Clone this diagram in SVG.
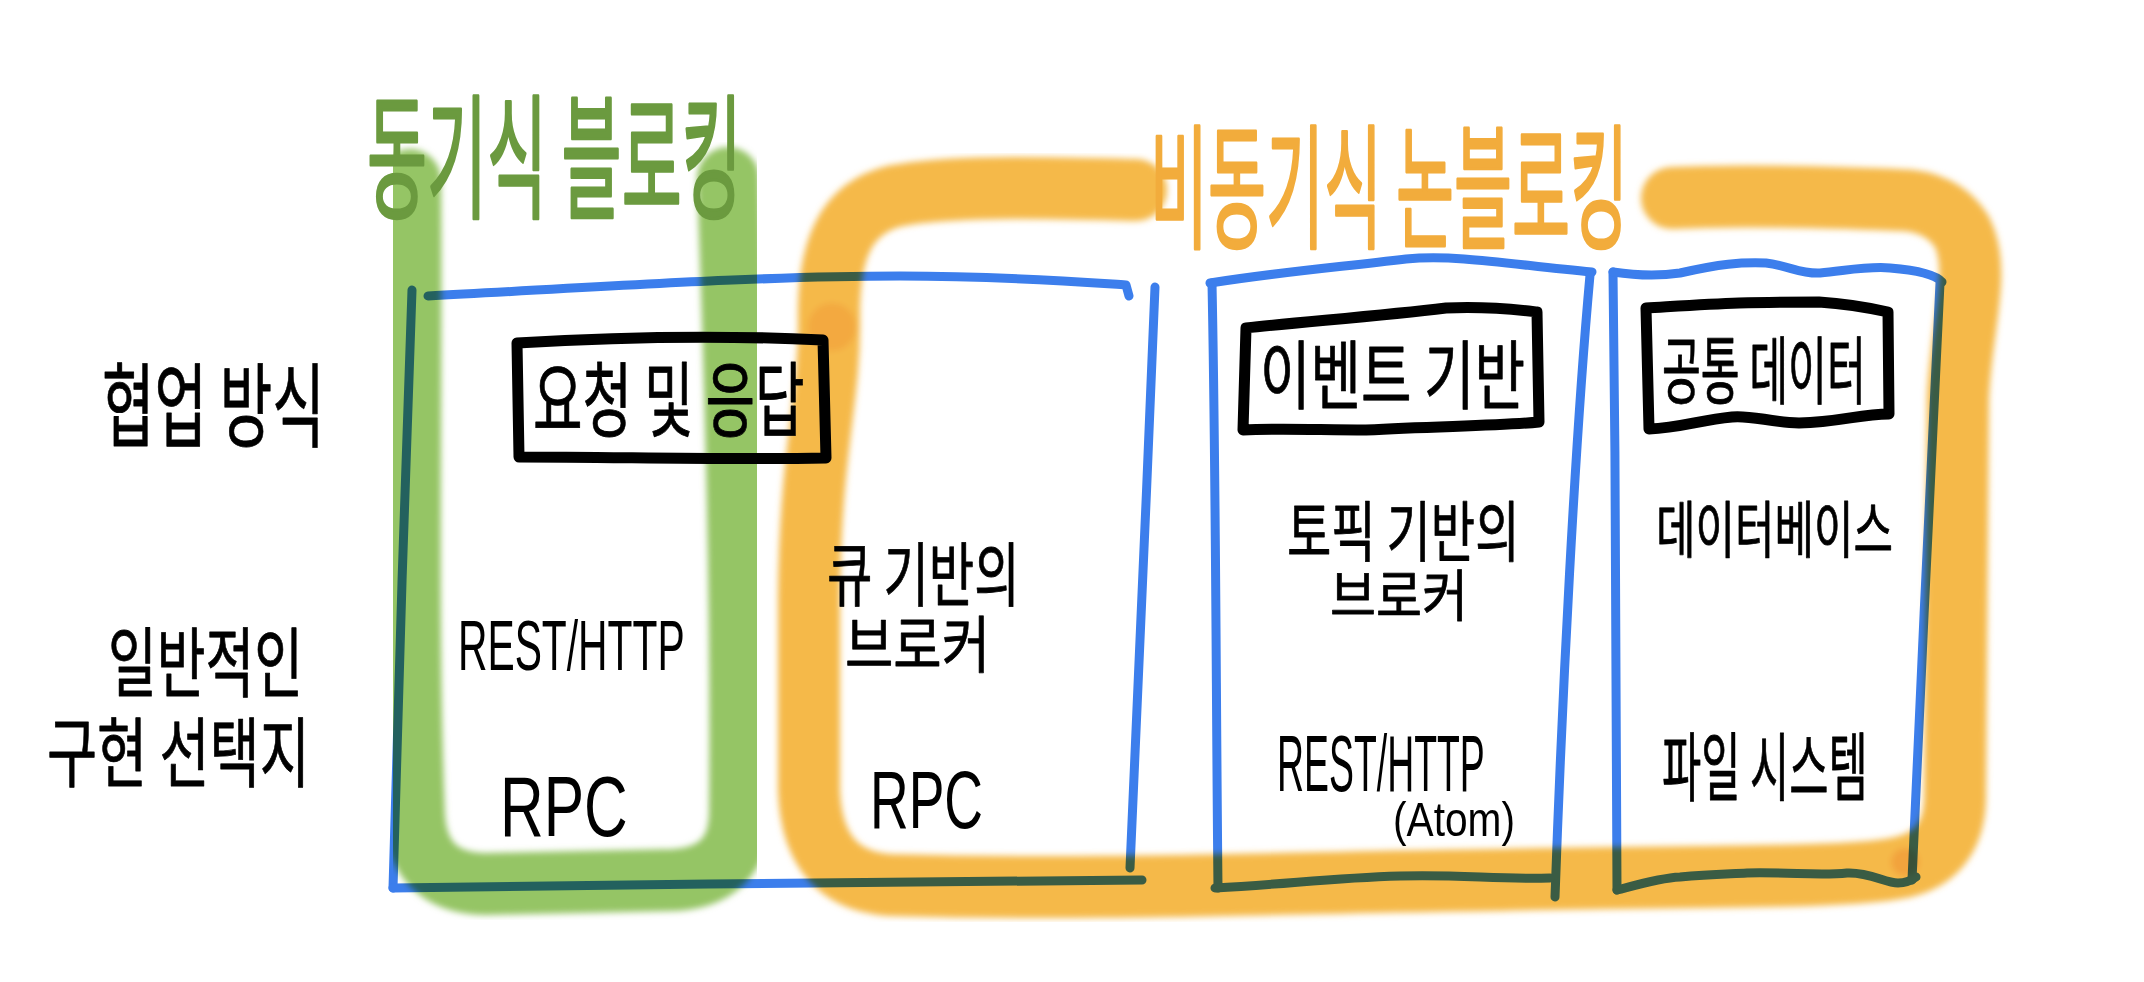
<svg xmlns="http://www.w3.org/2000/svg" width="2144" height="982" viewBox="0 0 2144 982">
<defs>
<filter id="soft" x="-5%" y="-5%" width="110%" height="110%"><feGaussianBlur stdDeviation="3"/></filter>
</defs>
<style>
.blue{fill:none;stroke:#3c7eec;stroke-width:9;stroke-linecap:round;stroke-linejoin:round}
.box{fill:none;stroke:#000;stroke-width:11;stroke-linecap:round;stroke-linejoin:round}
.ko{font-family:"Noto Sans CJK KR","Noto Sans",sans-serif;fill:#000;stroke:#000;stroke-width:0.8;stroke-linejoin:round}
.en{font-family:"Liberation Sans",Arial,sans-serif;fill:#000}
.hl{fill:none;stroke-linecap:round;stroke-linejoin:round;stroke-width:62}
.marker{mix-blend-mode:multiply}
.t-green{font-family:"Noto Sans CJK KR",sans-serif;fill:#6b9a3f;stroke:#6b9a3f;stroke-width:3;stroke-linejoin:round}
.t-orange{font-family:"Noto Sans CJK KR",sans-serif;fill:#f2ac3c;stroke:#f2ac3c;stroke-width:3;stroke-linejoin:round}
</style>
<rect width="2144" height="982" fill="#fff"/>

<g id="labels">
<text class="ko" transform="translate(102 440) scale(0.574 1)" font-size="92" textLength="388" lengthAdjust="spacingAndGlyphs">협업 방식</text>
<text class="ko" transform="translate(108 691) scale(0.641 1)" font-size="76" textLength="304" lengthAdjust="spacingAndGlyphs">일반적인</text>
<text class="ko" transform="translate(47 781) scale(0.662 1)" font-size="76" textLength="397" lengthAdjust="spacingAndGlyphs">구현 선택지</text>
</g>

<g id="column-sync">
<path class="blue" d="M428 296 C600 287 760 276 900 276 C1000 276 1080 282 1126 285 L1129 296"/>
<path class="blue" d="M412 290 C405 480 398 700 393 888"/>
<path class="blue" d="M393 888 C640 884 900 882 1142 880"/>
<path class="blue" d="M1155 287 C1148 480 1136 700 1130 868"/>
<path class="box" d="M517 343 C600 338 700 334 823 340 L826 458 C720 460 620 457 519 457 Z"/>
<text class="ko" transform="translate(533 430) scale(0.609 1)" font-size="82" textLength="446" lengthAdjust="spacingAndGlyphs">요청 및 응답</text>
<text class="en" transform="translate(458 670) scale(0.584 1)" font-size="70" textLength="388" lengthAdjust="spacingAndGlyphs">REST/HTTP</text>
<text class="en" transform="translate(500 836) scale(0.705 1)" font-size="86" textLength="181" lengthAdjust="spacingAndGlyphs">RPC</text>
<text class="ko" transform="translate(827 601) scale(0.653 1)" font-size="70" textLength="295" lengthAdjust="spacingAndGlyphs">큐 기반의</text>
<text class="ko" transform="translate(845 668) scale(0.78 1)" font-size="62" textLength="186" lengthAdjust="spacingAndGlyphs">브로커</text>
<text class="en" transform="translate(870 828) scale(0.653 1)" font-size="82" textLength="173" lengthAdjust="spacingAndGlyphs">RPC</text>
</g>

<g id="column-event">
<path class="blue" d="M1212 283 C1216 480 1216 700 1218 888"/>
<path class="blue" d="M1210 283 C1280 272 1330 268 1406 259 C1460 254 1520 266 1592 272"/>
<path class="blue" d="M1590 275 C1575 440 1562 700 1555 897"/>
<path class="blue" d="M1215 888 C1290 884 1330 878 1400 876 C1460 874 1500 880 1550 878"/>
<path class="box" d="M1246 328 C1300 322 1380 316 1446 308 C1490 306 1520 310 1537 312 L1539 422 C1500 426 1440 426 1366 430 C1320 430 1280 428 1243 430 Z"/>
<text class="ko" transform="translate(1260 403) scale(0.676 1)" font-size="75" textLength="392" lengthAdjust="spacingAndGlyphs">이벤트 기반</text>
<text class="ko" transform="translate(1287 556) scale(0.676 1)" font-size="66" textLength="344" lengthAdjust="spacingAndGlyphs">토픽 기반의</text>
<text class="ko" transform="translate(1330 616) scale(0.821 1)" font-size="56" textLength="168" lengthAdjust="spacingAndGlyphs">브로커</text>
<text class="en" transform="translate(1277 791) scale(0.468 1)" font-size="80" textLength="444" lengthAdjust="spacingAndGlyphs">REST/HTTP</text>
<text class="en" transform="translate(1393 836) scale(0.847 1)" font-size="48" textLength="144" lengthAdjust="spacingAndGlyphs">(Atom)</text>
</g>

<g id="column-shared">
<path class="blue" d="M1613 272 C1616 480 1616 700 1617 890"/>
<path class="blue" d="M1613 272 C1640 276 1660 276 1680 273 C1720 264 1740 262 1766 263 C1790 266 1800 274 1820 273 C1850 270 1870 266 1890 268 C1915 270 1935 274 1942 282"/>
<path class="blue" d="M1940 283 C1932 440 1920 700 1912 880"/>
<path class="blue" d="M1617 890 C1640 884 1660 878 1680 877 C1710 874 1730 874 1747 873 C1790 872 1820 876 1847 873 C1870 872 1885 883 1898 883 C1905 883 1912 880 1916 877"/>
<path class="box" d="M1646 308 C1680 306 1710 304 1739 303 C1770 302 1800 302 1819 302 C1850 304 1870 308 1888 312 L1889 414 C1860 414 1840 422 1799 423 C1770 422 1750 415 1732 417 C1700 420 1680 428 1649 429 Z"/>
<text class="ko" transform="translate(1662 398) scale(0.528 1)" font-size="74" textLength="386" lengthAdjust="spacingAndGlyphs">공통 데이터</text>
<text class="ko" transform="translate(1656 553) scale(0.637 1)" font-size="62" textLength="372" lengthAdjust="spacingAndGlyphs">데이터베이스</text>
<text class="ko" transform="translate(1662 795) scale(0.526 1)" font-size="75" textLength="391" lengthAdjust="spacingAndGlyphs">파일 시스템</text>
</g>

<g id="highlight-sync" class="marker" filter="url(#soft)">
<path class="hl" stroke="#95c565" d="M410 180 C412 400 406 620 414 815 Q418 883 485 884 L675 880 Q738 876 740 815 C742 600 736 400 728 178"/>
</g>

<g id="highlight-async" class="marker" filter="url(#soft)">
<path class="hl" stroke="#f5b949" d="M1136 190 C1050 188 950 185 895 196 C845 208 828 250 829 320 C830 400 810 450 809 600 L809 790 Q812 880 890 885 C1100 891 1300 882 1500 880 C1700 876 1850 878 1898 868 Q1953 858 1955 800 L1958 400 C1960 330 1982 272 1962 232 Q1942 200 1898 200 C1800 196 1730 195 1672 198"/>
<circle cx="832" cy="327" r="24" fill="#f29a3a" opacity="0.5"/>
<circle cx="1905" cy="862" r="14" fill="#ee7a2a" opacity="0.35"/>
</g>

<g id="title-sync">
<text class="t-green" transform="translate(367 208) scale(0.446 1)" font-size="135" textLength="840" lengthAdjust="spacingAndGlyphs">동기식 블로킹</text>
</g>
<g id="title-async">
<text class="t-orange" transform="translate(1150 238) scale(0.4305 1)" font-size="135" textLength="1110" lengthAdjust="spacingAndGlyphs">비동기식 논블로킹</text>
</g>
</svg>
